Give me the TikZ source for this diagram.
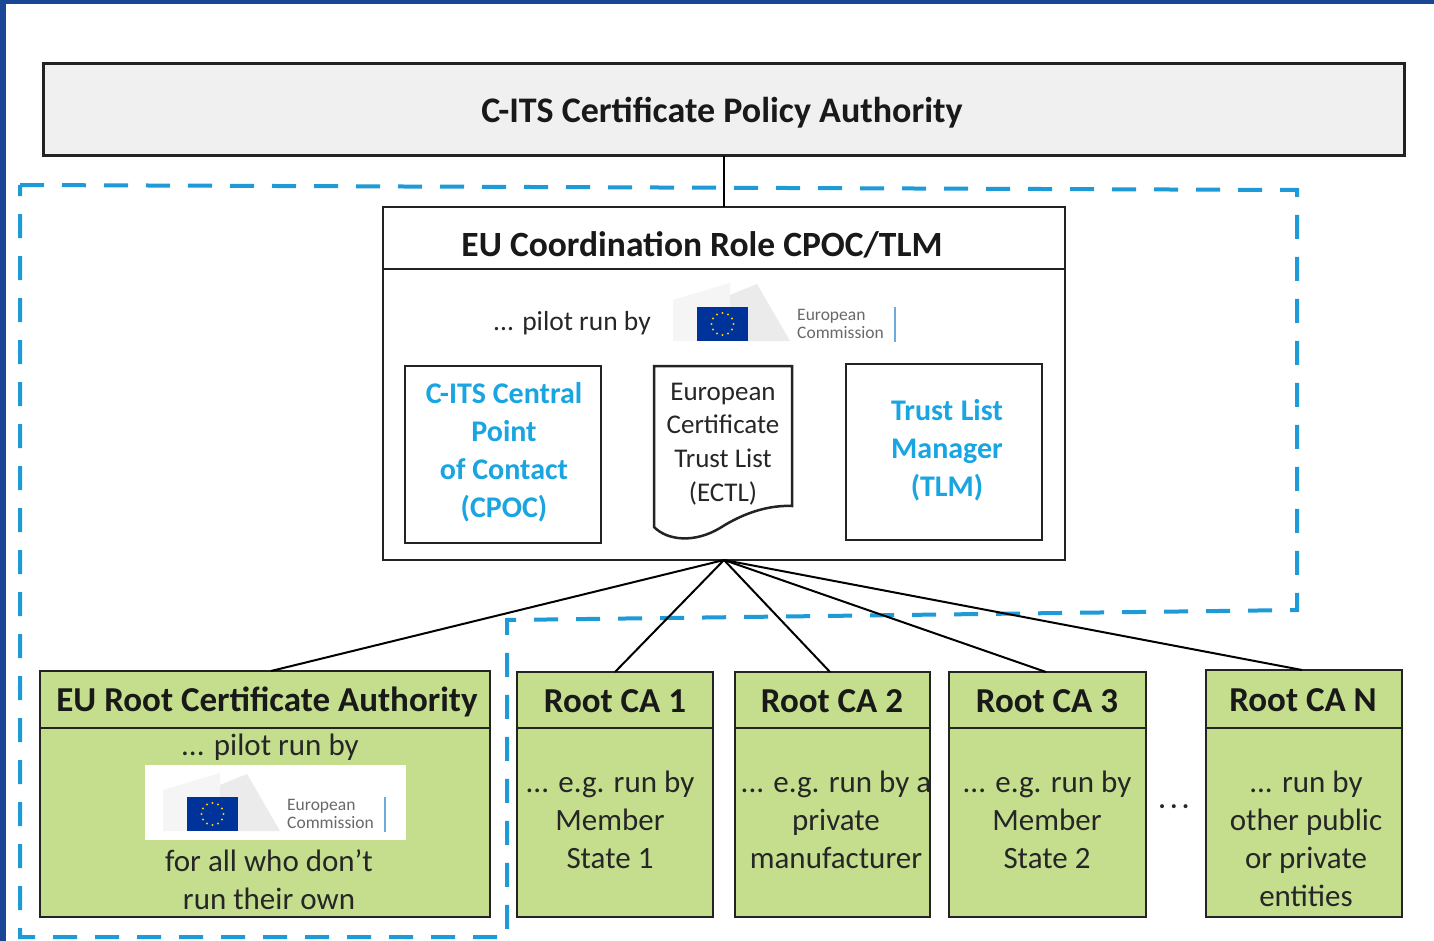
\documentclass[tikz,border=0pt]{standalone}
\usepackage{fontspec}
\setmainfont{Carlito}
\definecolor{frameblue}{RGB}{26,70,150}
\definecolor{dashcyan}{RGB}{30,155,215}
\definecolor{txtcyan}{RGB}{25,165,225}
\definecolor{boxgreen}{RGB}{196,222,142}
\definecolor{topgray}{RGB}{240,240,240}
\definecolor{ecblue}{RGB}{0,51,153}
\definecolor{ecyellow}{RGB}{255,204,0}
\definecolor{ecgray}{RGB}{105,105,105}
\definecolor{ecbar}{RGB}{110,170,220}
\definecolor{edge}{RGB}{35,35,35}
\tikzset{
  box/.style={draw=edge, line width=2.5pt, inner sep=0pt, outer sep=0pt, anchor=north west},
  greenbox/.style={box, fill=boxgreen},
  sepline/.style={draw=edge, line width=2.5pt},
  hdr/.style={font=\fontsize{35}{40}\selectfont\bfseries, text=black!90, inner sep=0pt},
  body/.style={font=\fontsize{31}{38}\selectfont, text=black!85, align=center, inner sep=0pt},
  cyantxt/.style={font=\fontsize{30}{38}\selectfont\bfseries, text=txtcyan, align=center, inner sep=0pt},
  conn/.style={line width=2pt, draw=black},
  region/.style={draw=dashcyan, line width=4pt, dash pattern=on 24pt off 18pt},
  eclogo/.pic={
    \fill[gray!8] (-24,-7) -- (33,-24) -- (33,34) -- (-24,34) -- cycle;
    \fill[gray!16] (33,-12) -- (60,-23) -- (93,34) -- (33,34) -- cycle;
    \fill[ecblue] (0,0) rectangle (51,34);
    \foreach \a in {0,30,...,330} \fill[ecyellow] (25.5,17) ++(\a:11) circle[radius=1.1pt];
    \node[text=ecgray, anchor=west, font=\fontsize{17.5}{18}\selectfont, align=left, inner sep=0pt] (-txt) at (100,17) {European\\Commission};
    \draw[ecbar, line width=2pt] (198,0) -- (198,35);
  }
}
\begin{document}
\begin{tikzpicture}[x=1pt,y=-1pt]
\useasboundingbox (0,0) rectangle (1434,941);
\fill[white] (0,0) rectangle (1434,941);
% frame
\fill[frameblue] (0,0) rectangle (1434,4);
\fill[frameblue] (0,0) rectangle (6,941);

% dashed region
\draw[region] (20,185) -- (1297,190) -- (1297,610) -- (507,620) -- (507,937) -- (20,937) -- cycle;

% top authority
\node[box, fill=topgray, line width=3pt, minimum width=1361pt, minimum height=92pt] (cpa) at (43,64) {};
\node[font=\fontsize{36}{40}\selectfont\bfseries, text=black!90, inner sep=0pt] (cpatxt) at (722,113) {C-ITS Certificate Policy Authority};

% EU coordination role
\node[box, fill=white, minimum width=682pt, minimum height=353pt] (coord) at (383,207) {};
\draw[conn] (cpa.south -| coord.north) -- (coord.north);
\draw[sepline] (coord.west |- 0,269) -- (coord.east |- 0,269);
\node[font=\fontsize{35.5}{40}\selectfont\bfseries, text=black!90, inner sep=0pt] (coordtxt) at (702,245) {EU Coordination Role CPOC/TLM};
\node[font=\fontsize{27.5}{32}\selectfont, text=black!85, inner sep=0pt] (pilot1) at (572,323) {... pilot run by};
\pic (logoA) at (697,307) {eclogo};

\node[box, fill=white, minimum width=196pt, minimum height=177pt] (cpoc) at (405,366) {};
\node[cyantxt] (cpoctxt) at (504,452) {C-ITS Central\\Point\\of Contact\\(CPOC)};

\node[box, draw=none, minimum width=138pt, minimum height=172pt] (ectl) at (654,366) {};
\draw[sepline, line width=2.5pt, fill=white] (ectl.north west) -- (ectl.north east) -- (792,506)
  .. controls (770,505) and (745,512) .. (720,528)
  .. controls (695,543) and (668,541) .. (654,527) -- cycle;
\node[font=\fontsize{27}{33.7}\selectfont, text=black!85, align=center, inner sep=0pt] (ectltxt) at (723,444) {European\\Certificate\\Trust List\\(ECTL)};

\node[box, fill=white, minimum width=196pt, minimum height=176pt] (tlm) at (846,364) {};
\node[cyantxt] (tlmtxt) at (947,450) {Trust\hspace{0.25em}List\\Manager\\(TLM)};

% root CAs
\node[greenbox, minimum width=450pt, minimum height=246pt] (eur) at (40,671) {};
\draw[sepline] (eur.west |- 0,728) -- (eur.east |- 0,728);
\node[hdr] (eurh) at (267,702) {EU Root Certificate Authority};
\node[body] (eurb1) at (270,747) {... pilot run by};
\fill[white] (145,765) rectangle (406,840);
\pic (logoB) at (187,797) {eclogo};
\node[body] (eurb2) at (269,880) {for all who don’t\\run their own};

\node[greenbox, minimum width=196pt, minimum height=245pt] (rca1) at (517,672) {};
\draw[sepline] (rca1.west |- 0,728) -- (rca1.east |- 0,728);
\node[hdr] (rca1h) at (615,701) {Root CA 1};
\node[body] (rca1b) at (610,820) {... e.g. run by\\Member\\State 1};

\node[greenbox, minimum width=195pt, minimum height=245pt] (rca2) at (735,672) {};
\draw[sepline] (rca2.west |- 0,728) -- (rca2.east |- 0,728);
\node[hdr] (rca2h) at (832,701) {Root CA 2};
\node[body] (rca2b) at (836,820) {... e.g. run by a\\private\\manufacturer};

\node[greenbox, minimum width=197pt, minimum height=245pt] (rca3) at (949,672) {};
\draw[sepline] (rca3.west |- 0,728) -- (rca3.east |- 0,728);
\node[hdr] (rca3h) at (1047,701) {Root CA 3};
\node[body] (rca3b) at (1047,820) {... e.g. run by\\Member\\State 2};

\node[font=\fontsize{28}{30}\selectfont, text=black!85, inner sep=0pt] (dots) at (1174,810) {·\,·\,·};

\node[greenbox, minimum width=196pt, minimum height=247pt] (rcaN) at (1206,670) {};
\draw[sepline] (rcaN.west |- 0,728) -- (rcaN.east |- 0,728);
\node[hdr] (rcaNh) at (1303,700) {Root CA N};
\node[body] (rcaNb) at (1306,839) {... run by\\other public\\or private\\entities};

% connectors
\draw[conn] (coord.south) -- (eur.north -| 271,0);
\draw[conn] (coord.south) -- (rca1.north -| 615,0);
\draw[conn] (coord.south) -- (rca2.north -| 830,0);
\draw[conn] (coord.south) -- (rca3.north -| 1046,0);
\draw[conn] (coord.south) -- (rcaN.north -| 1302,0);
\end{tikzpicture}
\end{document}
